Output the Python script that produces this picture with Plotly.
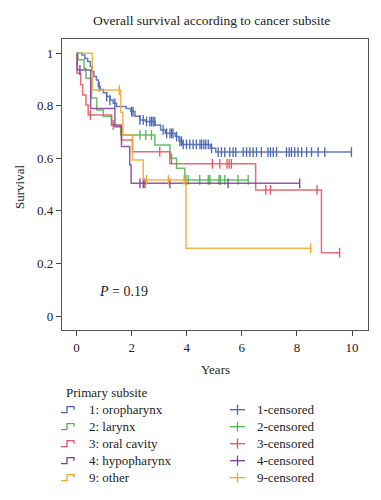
import numpy as np
import plotly.graph_objects as go

# ---------------- data ----------------
groups = ["1: oropharynx", "2: larynx", "3: oral cavity", "4: hypopharynx", "9: other"]
censor_names = ["1-censored", "2-censored", "3-censored", "4-censored", "9-censored"]

t_oro = [0, 0.2, 0.3, 0.4, 0.5, 0.56, 0.63, 0.72, 0.79, 0.86, 0.97, 1.09, 1.21, 1.33, 1.45, 1.8, 1.97,
         2.12, 2.3, 2.5, 2.85, 3.05, 3.22, 3.58, 3.72, 3.84, 4.85, 5.05]
s_oro = [1.0, 0.993, 0.98, 0.968, 0.949, 0.93, 0.911, 0.898, 0.873, 0.862, 0.85, 0.835, 0.822, 0.81, 0.797,
         0.79, 0.778, 0.76, 0.746, 0.74, 0.727, 0.708, 0.695, 0.683, 0.665, 0.653, 0.638, 0.624]
c_oro = [0.82, 1.09, 1.21, 1.39, 2.0, 2.05, 2.3, 2.42, 2.54, 2.66, 2.72, 2.78, 2.84, 3.14, 3.27, 3.39,
         3.45, 3.5, 3.63, 3.75, 3.81, 3.87, 3.99, 4.11, 4.23, 4.35, 4.48, 4.54, 4.62, 4.69, 4.78, 4.9,
         5.14, 5.26, 5.38, 5.56, 5.68, 5.78, 6.05, 6.17, 6.29, 6.41, 6.53, 6.71, 6.95, 7.04, 7.14, 7.26,
         7.62, 7.72, 7.8, 7.92, 8.04, 8.17, 8.35, 8.53, 8.77, 9.01, 9.98]

t_lar = [0, 0.05, 0.27, 0.34, 0.54, 0.73, 0.97, 1.27, 1.6, 2.84, 3.39, 3.63, 3.93]
s_lar = [1.0, 0.975, 0.943, 0.905, 0.83, 0.784, 0.759, 0.727, 0.689, 0.651, 0.6, 0.562, 0.518]
c_lar = [2.3, 2.51, 2.72, 3.45, 3.97, 4.05, 4.47, 4.78, 4.84, 5.17, 5.22, 5.38, 5.86, 6.23]

t_ora = [0, 0.02, 0.15, 0.22, 0.34, 0.42, 1.27, 1.63, 2.03, 3.39, 6.5, 8.89]
s_ora = [1.0, 0.924, 0.88, 0.841, 0.803, 0.765, 0.727, 0.67, 0.625, 0.579, 0.48, 0.241]
c_ora = [0.5, 1.33, 3.02, 4.93, 5.2, 5.46, 5.54, 5.62, 6.87, 7.04, 8.73, 9.55]

t_hyp = [0, 0.02, 0.51, 1.39, 1.63, 1.93, 1.98]
s_hyp = [1.0, 0.936, 0.79, 0.72, 0.645, 0.575, 0.505]
c_hyp = [0.12, 2.3, 2.42, 2.48, 3.39, 5.5, 8.1]

t_oth = [0, 0.57, 1.6, 1.68, 2.03, 2.42, 3.97]
s_oth = [1.0, 0.86, 0.775, 0.689, 0.594, 0.518, 0.258]
c_oth = [1.55, 2.54, 3.33, 3.9, 8.5]

x_ticks = [0, 2, 4, 6, 8, 10]
y_ticks = [0, 0.2, 0.4, 0.6, 0.8, 1]
y_ticklabels = ["0", "0.2", "0.4", "0.6", "0.8", "1"]
p_text = "<i>P</i> = 0.19"

colors = ["#4a66b4", "#4fb552", "#e5525e", "#7e3f98", "#f6a52c"]

series = [(t_oro, s_oro, c_oro), (t_lar, s_lar, c_lar), (t_ora, s_ora, c_ora),
          (t_hyp, s_hyp, c_hyp), (t_oth, s_oth, c_oth)]

FONT = "Liberation Serif"
TXT = "#222"
fig = go.Figure()

for (t, s, c), col, name, cname in zip(series, colors, groups, censor_names):
    t = np.array(t, float); s = np.array(s, float); c = np.array(c, float)
    end = max(t.max(), c.max())
    xs = np.append(t, end); ys = np.append(s, s[-1])
    fig.add_trace(go.Scatter(x=xs, y=ys, mode="lines", line=dict(color=col, width=1.5, shape="hv"),
                             name=name, showlegend=False, opacity=0.85))
    idx = np.searchsorted(t, c, side="right") - 1
    fig.add_trace(go.Scatter(x=c, y=s[idx], mode="markers", name=cname, showlegend=False,
                             marker=dict(symbol="line-ns", size=7, line=dict(color=col, width=1.3))))

# --------------- layout ---------------
W, H = 381, 500
L, R, T, B = 62, 13, 39, 170
pw, ph = W - L - R, H - T - B

def px(x): return (x - L) / pw
def py(y): return (H - B - y) / ph

fig.update_layout(
    width=W, height=H, margin=dict(l=L, r=R, t=T, b=B),
    plot_bgcolor="white", paper_bgcolor="white",
    font=dict(family=FONT, size=13, color=TXT),
    xaxis=dict(range=[-0.53, 10.58], tickvals=x_ticks, ticks="outside", ticklen=5, tickcolor="#444",
               showline=True, mirror=True, linecolor="#555", linewidth=1.3, showgrid=False, zeroline=False,
               tickfont=dict(family=FONT, size=13, color=TXT)),
    yaxis=dict(range=[-0.053, 1.054], tickvals=y_ticks, ticktext=y_ticklabels, ticks="outside", ticklen=5,
               tickcolor="#444", showline=True, mirror=True, linecolor="#555", linewidth=1.3,
               showgrid=False, zeroline=False, tickfont=dict(family=FONT, size=13, color=TXT)),
    showlegend=False,
)

def text(t, x, y, xanchor="center", size=13, **kw):
    return dict(text=t, x=x, y=y, xref=kw.pop("xref", "paper"), yref=kw.pop("yref", "paper"),
                xanchor=xanchor, yanchor="middle", showarrow=False,
                font=dict(size=size, family=FONT, color=TXT), **kw)

ann = [
    text("Overall survival according to cancer subsite", px(211), py(20), size=13.5),
    text("Survival", px(19), py(187), textangle=-90),
    text("Years", px(215), py(369)),
    text(p_text, 1.72, 0.095, xref="x", yref="y", size=14),
    text("Primary subsite", px(64), py(392), xanchor="left"),
]

shapes = []
rows = [409.7, 426.7, 443.7, 460.7, 477.7]
for i, (col, name, cname) in enumerate(zip(colors, groups, censor_names)):
    yy = rows[i]
    ann.append(text(name, px(87), py(yy), xanchor="left"))
    ann.append(text(cname, px(255), py(yy), xanchor="left"))
    path = (f"M{px(61)},{py(yy+3)} L{px(67)},{py(yy+3)} L{px(67)},{py(yy-3)} "
            f"L{px(74)},{py(yy-3)} L{px(74)},{py(yy)}")
    shapes.append(dict(type="path", path=path, xref="paper", yref="paper",
                       line=dict(color=col, width=1.3)))
    shapes.append(dict(type="line", x0=px(230), x1=px(245), y0=py(yy), y1=py(yy), xref="paper",
                       yref="paper", line=dict(color=col, width=1.3)))
    shapes.append(dict(type="line", x0=px(237.5), x1=px(237.5), y0=py(yy - 5), y1=py(yy + 5), xref="paper",
                       yref="paper", line=dict(color=col, width=1.3)))

fig.update_layout(annotations=ann, shapes=shapes)
fig.write_html("out.html", config={"displayModeBar": False},
               post_script="document.body.style.margin='0px';")
